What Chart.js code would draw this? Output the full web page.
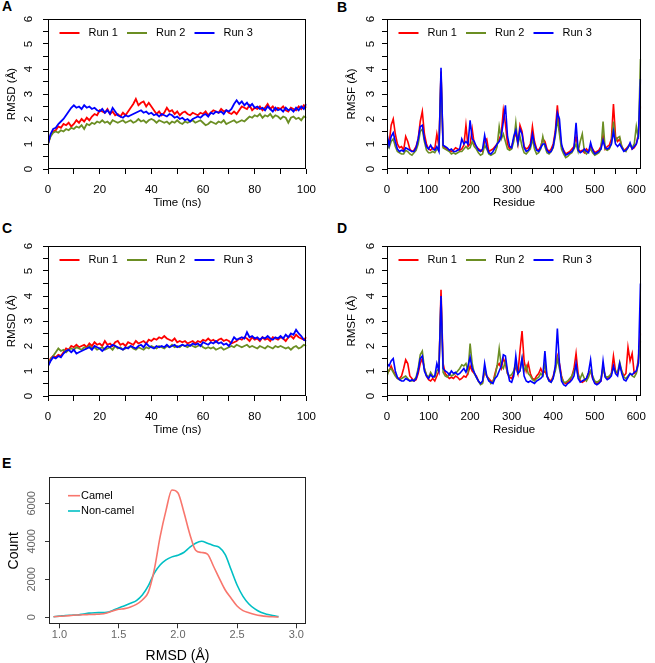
<!DOCTYPE html>
<html>
<head>
<meta charset="utf-8">
<title>RMSD / RMSF</title>
<script src="https://cdn.jsdelivr.net/npm/chart.js@4.4.1/dist/chart.umd.min.js"></script>
<style>
  html, body { margin: 0; padding: 0; background: #fff; width: 655px; height: 663px; overflow: hidden; }
  canvas { position: absolute; }
  .tag { position: absolute; font: bold 14px "Liberation Sans", Arial, sans-serif; line-height: 14px; color: #000; }
</style>
</head>
<body>
<div class="tag" style="left:2px;top:-1px">A</div>
<div class="tag" style="left:337px;top:0px">B</div>
<div class="tag" style="left:2px;top:221px">C</div>
<div class="tag" style="left:337px;top:221px">D</div>
<div class="tag" style="left:2px;top:456px">E</div>

<canvas id="chartA" style="left:0;top:0" width="325" height="215"></canvas>
<canvas id="chartB" style="left:325px;top:0" width="330" height="215"></canvas>
<canvas id="chartC" style="left:0;top:227px" width="325" height="215"></canvas>
<canvas id="chartD" style="left:325px;top:227px" width="330" height="215"></canvas>
<canvas id="chartE" style="left:0;top:458px" width="325" height="205"></canvas>

<script>
// ---- data ----
const runNames = ['Run 1', 'Run 2', 'Run 3'];
const runColors = ['#ff0000', '#6b8e23', '#0000ff'];

// time axis (ns), one sample per ns
const timeNs = [];
for (let t = 0; t <= 100; t++) timeNs.push(t);

// residue axis, every 5th residue
const residues = [];
for (let r = 0; r <= 610; r += 5) residues.push(r);

// panel A - RMSD
const rmsdA1 = [
  1.0, 1.35, 1.5, 1.55, 1.7, 1.65, 1.8, 1.75, 1.85, 1.7,
  1.8, 1.95, 1.85, 2.0, 1.9, 2.05, 1.95, 2.1, 2.2, 2.15,
  2.35, 2.3, 2.25, 2.4, 2.2, 2.3, 2.15, 2.2, 2.1, 2.25,
  2.15, 2.3, 2.45, 2.6, 2.8, 2.55, 2.65, 2.7, 2.5, 2.65,
  2.5, 2.35, 2.2, 2.3, 2.15, 2.25, 2.45, 2.3, 2.35, 2.2,
  2.3, 2.15, 2.25, 2.3, 2.2, 2.15, 2.25, 2.2, 2.15, 2.25,
  2.2, 2.3, 2.15, 2.25, 2.35, 2.3, 2.25, 2.4, 2.3, 2.35,
  2.25, 2.2, 2.3, 2.2, 2.35, 2.5, 2.45, 2.4, 2.55, 2.35,
  2.45, 2.4, 2.5, 2.35, 2.45, 2.6, 2.4, 2.5, 2.35, 2.45,
  2.4, 2.5, 2.35, 2.3, 2.45, 2.4, 2.35, 2.5, 2.4, 2.55,
  2.45];
const rmsdA2 = [
  1.0, 1.3, 1.45, 1.5, 1.45, 1.55, 1.5, 1.6, 1.55, 1.65,
  1.6, 1.7, 1.65, 1.75, 1.6, 1.8, 1.75, 1.85, 1.8, 1.9,
  1.85, 1.95, 1.85, 1.9, 1.8, 1.95, 1.9, 1.85, 1.9, 1.95,
  1.85, 1.9, 1.95, 1.85, 1.9, 2.0, 1.9, 1.95, 1.85, 1.95,
  2.0, 1.95, 1.85, 1.95, 1.9, 1.85, 1.9, 1.8, 1.9, 1.85,
  1.95, 1.85, 1.8, 1.9, 1.85, 1.9, 1.95, 1.85, 1.9, 1.95,
  1.85, 1.75, 1.8, 1.9, 1.85, 1.8, 1.9, 1.85, 1.95, 1.8,
  1.85, 1.9, 1.95, 1.85, 1.9, 1.95, 1.9, 2.0, 2.1, 2.05,
  2.15, 2.1, 2.2, 2.05, 2.15, 2.1, 2.2, 2.05, 2.15, 2.1,
  2.0, 2.1, 2.05, 1.85, 2.05, 2.1, 2.0, 2.05, 1.95, 2.1,
  2.05];
const rmsdA3 = [
  1.0, 1.4, 1.6, 1.65, 1.8, 1.9, 2.0, 2.15, 2.3, 2.45,
  2.55, 2.45, 2.5, 2.4, 2.55, 2.45, 2.5, 2.4, 2.45, 2.35,
  2.3, 2.4, 2.25, 2.35, 2.2, 2.45, 2.3, 2.15, 2.1, 2.05,
  2.15, 2.1, 2.15, 2.2, 2.25, 2.3, 2.35, 2.25, 2.3, 2.2,
  2.25, 2.15, 2.2, 2.1, 2.2, 2.15, 2.1, 2.2, 2.15, 2.05,
  2.1, 2.0, 2.05, 1.95, 2.0, 1.9, 2.0, 2.05, 2.1, 2.05,
  2.15, 2.2, 2.1, 2.25, 2.2, 2.3, 2.25, 2.3, 2.2, 2.35,
  2.3, 2.4, 2.6, 2.75, 2.6, 2.7, 2.55, 2.65, 2.5, 2.6,
  2.45, 2.5, 2.4, 2.45, 2.35, 2.5, 2.4, 2.3, 2.45, 2.35,
  2.4, 2.3, 2.45, 2.35, 2.4, 2.3, 2.45, 2.35, 2.5, 2.4,
  2.6];

// panel B - RMSF
const rmsfB1 = [
  1.2, 1.0, 1.75, 2.0, 1.4, 1.0, 0.85, 0.9, 0.75, 1.3,
  1.1, 0.8, 0.7, 0.75, 0.9, 1.2, 1.9, 2.3, 1.4, 1.0,
  0.8, 0.75, 0.85, 0.8, 1.4, 0.9, 3.9, 0.9, 0.85, 0.8,
  0.75, 0.7, 0.75, 0.85, 0.8, 0.75, 0.8, 0.95, 1.75, 0.9,
  1.0, 1.6, 1.0, 0.9, 0.8, 0.75, 0.7, 1.1, 1.2, 0.7,
  0.75, 0.8, 0.9, 1.0, 1.2, 1.4, 2.35, 1.8, 1.0, 0.8,
  0.9, 1.2, 1.45, 1.0, 1.75, 1.5, 0.9, 0.8, 0.85, 1.0,
  1.7, 1.1, 0.8, 0.75, 0.9, 1.2, 1.1, 0.8, 0.7, 0.8,
  1.0, 1.5, 2.55, 1.6, 0.9, 0.75, 0.6, 0.65, 0.7, 0.8,
  0.9, 1.3, 0.8, 0.7, 0.75, 0.65, 0.8, 0.7, 0.9, 0.8,
  0.65, 0.7, 0.75, 0.9, 1.35, 0.8, 0.9, 0.95, 1.2, 2.6,
  1.3, 1.1, 1.2, 0.9, 0.75, 0.8, 0.9, 1.0, 0.8, 0.85,
  1.0, 1.4, 2.5];
const rmsfB2 = [
  1.0, 0.85, 1.1, 1.2, 0.9, 0.7, 0.65, 0.6, 0.6, 0.75,
  0.7, 0.6, 0.55, 0.65, 0.75, 1.0, 1.5, 1.6, 1.1, 0.75,
  0.65, 0.65, 0.7, 0.65, 0.8, 0.75, 3.8, 0.85, 0.8, 0.75,
  0.7, 0.6, 0.65, 0.6, 0.65, 0.7, 0.7, 0.8, 0.9, 0.8,
  0.85, 1.1, 0.9, 0.8, 0.65, 0.55, 0.6, 0.95, 0.8, 0.6,
  0.55, 0.6, 0.65, 0.9, 1.7, 1.2, 1.4, 1.1, 0.8, 0.75,
  0.8, 1.1, 1.85, 1.0, 1.3, 0.9, 0.65, 0.6, 0.7, 0.8,
  1.2, 0.8, 0.6, 0.65, 0.8, 1.3, 0.9, 0.65, 0.6, 0.7,
  0.85, 1.3, 2.0, 1.4, 0.8, 0.6, 0.45, 0.5, 0.6, 0.65,
  0.8, 1.0, 0.7, 1.1, 1.4, 0.7, 0.6, 0.7, 0.8, 0.65,
  0.55, 0.6, 0.65, 0.8, 1.9, 0.8, 0.75, 0.8, 1.0, 1.9,
  1.1, 1.25, 1.3, 0.9, 0.75, 0.7, 0.9, 0.95, 0.85, 1.0,
  1.7, 1.2, 4.4];
const rmsfB3 = [
  1.4, 0.95, 1.3, 1.45, 1.1, 0.8, 0.7, 0.75, 0.7, 0.85,
  0.8, 0.75, 0.7, 0.7, 0.85, 1.2, 1.7, 1.75, 1.2, 0.9,
  0.8, 0.95, 0.8, 0.75, 0.9, 0.7, 4.05, 0.95, 0.9, 0.85,
  0.75, 0.8, 0.7, 0.7, 0.75, 0.8, 1.2, 1.0, 1.1, 1.0,
  1.95, 1.2, 1.1, 0.9, 0.75, 0.7, 0.8, 1.35, 0.9, 0.65,
  0.6, 0.7, 0.85, 1.0, 1.1, 1.3, 1.9, 2.55, 1.3, 0.9,
  0.85, 1.3, 1.55, 1.05, 1.6, 1.4, 0.85, 0.7, 0.75, 0.9,
  1.4, 1.0, 0.75, 0.7, 0.85, 1.0, 1.0, 0.75, 0.65, 0.7,
  0.9, 1.4, 2.25, 2.0, 1.0, 0.7, 0.55, 0.6, 0.65, 0.7,
  0.85, 1.85, 0.75, 0.65, 0.7, 0.8, 0.7, 0.65, 1.05, 0.75,
  0.6, 0.65, 0.7, 0.8, 1.15, 0.85, 0.8, 0.85, 1.0, 1.5,
  1.0, 0.9, 1.0, 0.85, 0.7, 0.75, 0.85, 1.05, 0.8, 0.9,
  1.0, 1.3, 3.6];

// panel C - RMSD
const rmsdC1 = [
  1.2, 1.5, 1.6, 1.55, 1.65, 1.6, 1.75, 1.9, 1.85, 2.0,
  1.95, 2.05, 1.95, 2.0, 2.05, 1.95, 2.1, 2.0, 2.15, 2.05,
  2.1, 2.0, 2.2, 2.05, 2.1, 2.0, 2.15, 2.2, 2.05, 2.1,
  2.0, 2.15, 2.1, 2.05, 2.2, 2.1, 2.15, 2.2, 2.1, 2.25,
  2.2, 2.3, 2.25, 2.35, 2.3, 2.4, 2.3, 2.25, 2.2, 2.3,
  2.15, 2.2, 2.15, 2.2, 2.1, 2.15, 2.2, 2.1, 2.2, 2.15,
  2.25, 2.2, 2.3, 2.2, 2.25, 2.15, 2.25, 2.3, 2.2, 2.25,
  2.2, 2.1, 2.15, 2.2, 2.3, 2.25, 2.35, 2.3, 2.2, 2.35,
  2.25, 2.3, 2.2, 2.35, 2.25, 2.3, 2.2, 2.35, 2.3, 2.25,
  2.35, 2.3, 2.2, 2.35, 2.4, 2.3, 2.45, 2.35, 2.3, 2.25,
  2.35];
const rmsdC2 = [
  1.2, 1.45, 1.6, 1.75, 1.9, 1.8, 1.85, 1.75, 1.85, 1.9,
  1.85, 1.95, 1.9, 1.85, 1.95, 1.9, 2.0, 1.9, 1.95, 1.85,
  1.9, 1.95, 1.85, 1.9, 1.95, 1.85, 2.0, 1.9, 1.95, 1.85,
  1.9, 1.95, 2.0, 1.9, 1.85, 1.95, 1.9, 1.85, 1.95, 1.9,
  2.0, 1.95, 1.9, 2.0, 1.95, 1.9, 2.0, 1.95, 2.05, 1.95,
  2.0, 1.95, 2.05, 2.0, 1.95, 2.05, 2.0, 1.95, 2.0, 2.05,
  1.95, 1.9, 1.95, 1.9, 1.95, 1.85, 1.9, 1.95, 1.85, 1.9,
  1.95, 2.0, 1.95, 2.05, 2.0, 1.95, 2.0, 2.05, 1.95, 2.0,
  1.95, 1.9, 2.0, 1.95, 1.9, 2.0, 1.95, 1.9, 2.0, 1.95,
  2.0, 1.95, 1.9, 1.95, 1.85, 1.95, 2.0, 1.9, 1.95, 2.05,
  2.0];
const rmsdC3 = [
  1.2, 1.4, 1.55, 1.5, 1.6, 1.55, 1.7, 1.8, 1.85, 1.75,
  1.85, 1.7, 1.75, 1.8, 1.85, 1.9, 1.95, 1.85, 2.0, 1.95,
  1.9, 1.8, 1.9, 2.0, 1.95, 2.05, 2.0, 1.95, 1.9, 1.85,
  1.95, 1.9, 2.0, 1.95, 1.9, 2.0, 2.05, 1.95, 2.1, 2.0,
  1.95, 1.9, 2.0, 1.95, 2.0, 1.95, 2.05, 1.95, 2.0, 2.05,
  1.95, 2.0, 2.05, 2.0, 2.05, 2.0, 2.1, 2.05, 2.1, 2.0,
  2.15, 2.1, 2.05, 2.15, 2.1, 2.2, 2.1, 2.15, 2.05, 2.1,
  2.0, 2.15, 2.35, 2.25, 2.3, 2.35, 2.3, 2.55, 2.35, 2.4,
  2.3, 2.35, 2.25, 2.35, 2.3, 2.4, 2.3, 2.25, 2.35, 2.3,
  2.4, 2.3, 2.45, 2.35, 2.5, 2.45, 2.65, 2.5, 2.4, 2.25,
  2.2];

// panel D - RMSF
const rmsfD1 = [
  1.0, 1.0, 1.2, 1.0, 0.85, 0.7, 0.7, 0.8, 1.1, 1.45,
  1.3, 0.8, 0.7, 0.6, 0.65, 0.9, 1.3, 1.5, 1.1, 0.8,
  0.65, 0.6, 0.7, 0.6, 0.8, 1.0, 4.25, 1.3, 0.9, 0.8,
  0.7, 0.75, 0.7, 0.8, 0.75, 0.65, 0.7, 0.8, 0.75, 0.9,
  1.2, 1.0, 0.9, 0.8, 0.6, 0.5, 0.55, 1.0, 0.8, 0.7,
  0.6, 0.55, 0.9, 1.2, 1.3, 1.1, 1.5, 1.3, 0.9, 0.75,
  0.7, 0.9, 1.2, 0.9, 1.8, 2.6, 1.4, 1.0, 1.3, 0.9,
  0.7, 0.65, 0.8, 0.9, 1.1, 0.9, 1.0, 0.8, 0.65, 0.6,
  0.8, 1.1, 1.6, 1.3, 0.8, 0.55, 0.5, 0.55, 0.6, 0.8,
  1.1, 1.7, 0.9, 0.6, 0.55, 0.6, 0.7, 0.9, 1.0, 0.7,
  0.55, 0.5, 0.55, 0.6, 1.2, 0.8, 0.7, 0.75, 0.9, 1.6,
  1.0, 0.9, 1.2, 1.0, 0.8, 0.9, 1.95, 1.4, 1.7, 0.9,
  0.95, 1.5, 2.5];
const rmsfD2 = [
  0.8, 1.05, 1.1, 0.95, 0.8, 0.7, 0.65, 0.7, 0.75, 0.8,
  0.7, 0.6, 0.6, 0.65, 0.75, 1.1, 1.65, 1.8, 1.1, 0.85,
  0.75, 0.95, 0.8, 0.75, 1.0, 1.1, 3.9, 0.95, 0.8, 0.75,
  0.9, 0.8, 0.85, 0.9, 1.0, 1.1, 1.25, 1.2, 1.3, 1.0,
  2.1, 1.3, 0.9, 0.75, 0.6, 0.45, 0.5, 1.1, 0.8, 0.65,
  0.5, 0.6, 0.8, 1.2, 1.9, 1.2, 1.1, 1.4, 0.9, 0.8,
  0.85, 1.0, 1.3, 0.9, 1.0, 1.5, 1.0, 1.2, 0.9, 0.8,
  0.65, 0.6, 0.7, 0.75, 0.9, 0.8, 1.3, 0.8, 0.6, 0.55,
  0.75, 1.0, 1.5, 1.1, 0.75, 0.55, 0.55, 0.6, 0.7, 0.8,
  1.0, 1.2, 0.8, 0.7, 0.9, 0.7, 0.6, 0.75, 1.0, 0.8,
  0.6, 0.55, 0.6, 0.7, 1.1, 0.8, 0.75, 0.8, 0.9, 1.1,
  1.0, 0.95, 1.35, 1.0, 0.75, 0.7, 0.8, 0.9, 0.8, 0.75,
  0.9, 1.3, 2.2];
const rmsfD3 = [
  1.3, 1.2, 1.4, 1.5, 1.0, 0.75, 0.65, 0.6, 0.6, 0.7,
  0.65, 0.6, 0.65, 0.6, 0.7, 1.0, 1.5, 1.6, 1.0, 0.8,
  0.7, 0.85, 0.75, 0.8, 1.3, 1.0, 4.0, 1.1, 1.0, 0.95,
  0.85, 1.0, 0.9, 0.95, 0.85, 0.9, 1.0, 1.1, 0.95, 1.2,
  1.55, 1.1, 0.95, 0.75, 0.6, 0.5, 0.6, 1.3, 0.8, 0.6,
  0.55, 0.5, 0.7, 0.8, 1.0, 1.2, 1.65, 1.6, 1.0, 0.6,
  0.55, 0.8, 1.6, 0.9, 1.0, 1.5, 0.8, 0.6, 0.55, 0.6,
  0.55, 0.5, 0.6, 0.65, 0.7, 0.8, 1.8, 0.8, 0.6, 0.55,
  0.7, 1.2, 2.7, 1.3, 0.6, 0.45, 0.4, 0.5, 0.55, 0.65,
  0.8, 1.3, 0.7, 0.55, 0.6, 0.65, 0.7, 0.95, 1.45, 0.7,
  0.5, 0.45, 0.5, 0.6, 1.4, 0.75, 0.65, 0.7, 0.8, 1.2,
  0.9, 0.8, 1.3, 0.9, 0.65, 0.6, 0.75, 0.9, 0.85, 0.95,
  1.0, 1.3, 4.5];

// panel E - RMSD distribution
const rmsdBins = [
  0.95, 1.0, 1.05, 1.1, 1.15, 1.2, 1.25, 1.3, 1.35, 1.4,
  1.45, 1.5, 1.55, 1.6, 1.65, 1.7, 1.75, 1.8, 1.85, 1.9,
  1.95, 2.0, 2.05, 2.1, 2.15, 2.2, 2.25, 2.3, 2.35, 2.4,
  2.45, 2.5, 2.55, 2.6, 2.65, 2.7, 2.75, 2.8, 2.85];
const camelCount = [
  30, 50, 70, 95, 120, 135, 145, 155, 170, 230,
  330, 420, 455, 540, 680, 910, 1310, 2480, 4230, 5630,
  6700, 6560, 5560, 4400, 3530, 3410, 3330, 2700, 2050, 1435,
  1000, 590, 350, 240, 150, 85, 45, 25, 15];
const nonCamelCount = [
  30, 60, 95, 110, 120, 170, 220, 240, 245, 260,
  360, 490, 610, 740, 880, 1170, 1650, 2310, 2750, 3020,
  3180, 3270, 3410, 3680, 3900, 4000, 3900, 3780, 3680, 3300,
  2500, 1700, 1100, 700, 440, 260, 160, 90, 35];
const distNames = ['Camel', 'Non-camel'];
const distColors = ['#f8766d', '#00bfc4'];

// ticks
const timeTicks = [0, 10, 20, 30, 40, 50, 60, 70, 80, 90, 100];
const timeTickLabels = ['0', '', '20', '', '40', '', '60', '', '80', '', '100'];
const residueTicks = [0, 50, 100, 150, 200, 250, 300, 350, 400, 450, 500, 550, 600];
const residueTickLabels = ['0', '', '100', '', '200', '', '300', '', '400', '', '500', '', '600'];
const angTicks = [0, 0.5, 1, 1.5, 2, 2.5, 3, 3.5, 4, 4.5, 5, 5.5, 6];
const angTickLabels = ['0', '', '1', '', '2', '', '3', '', '4', '', '5', '', '6'];
const rmsdBinTicks = [1.0, 1.5, 2.0, 2.5, 3.0];
const rmsdBinTickLabels = ['1.0', '1.5', '2.0', '2.5', '3.0'];
const countTicks = [0, 2000, 4000, 6000];
const countTickLabels = ['0', '2000', '4000', '6000'];

// ---- drawing ----
const FONT = '"Liberation Sans", Arial, Helvetica, sans-serif';
Chart.defaults.font.family = FONT;
Chart.defaults.color = '#000';

// box around the plot region
const framePlugin = {
  id: 'frame',
  afterDatasetsDraw(chart, args, opts) {
    const a = chart.chartArea, ctx = chart.ctx;
    ctx.save();
    ctx.strokeStyle = opts.color || '#000';
    ctx.lineWidth = 1;
    ctx.strokeRect(Math.round(a.left) + 0.5, Math.round(a.top) + 0.5,
      Math.round(a.right - a.left) - 1, Math.round(a.bottom - a.top) - 1);
    ctx.restore();
  }
};

// legend drawn inside the plot region
const innerLegend = {
  id: 'innerLegend',
  afterDraw(chart, args, o) {
    const a = chart.chartArea, ctx = chart.ctx;
    ctx.save();
    ctx.font = o.fontSize + 'px ' + FONT;
    ctx.textBaseline = 'middle';
    chart.data.datasets.forEach((ds, i) => {
      const x = a.left + o.x + i * o.stepX;
      const y = a.top + o.y + i * o.stepY;
      ctx.strokeStyle = ds.borderColor;
      ctx.lineWidth = o.lineWidth;
      ctx.beginPath();
      ctx.moveTo(x, y);
      ctx.lineTo(x + o.len, y);
      ctx.stroke();
      ctx.fillStyle = '#000';
      ctx.fillText(ds.label, x + o.len + o.gap, y);
    });
    ctx.restore();
  }
};

function axisCfg(min, max, tickVals, tickLabels, extra) {
  return Object.assign({
    type: 'linear',
    min: min,
    max: max,
    afterBuildTicks: s => { s.ticks = tickVals.map(v => ({ value: v })); },
    grid: { drawOnChartArea: false, drawTicks: true, tickLength: 5, tickColor: '#000', color: '#000' },
    border: { display: false }
  }, extra);
}

function runChart(id, xs, runs, c) {
  return new Chart(document.getElementById(id), {
    type: 'line',
    data: {
      datasets: runs.map((vals, i) => ({
        label: runNames[i],
        data: xs.map((x, j) => ({ x: x, y: vals[j] })),
        borderColor: runColors[i],
        backgroundColor: runColors[i],
        borderWidth: c.lineWidth,
        pointRadius: 0,
        tension: 0,
        order: runs.length - i
      }))
    },
    options: {
      responsive: false,
      animation: false,
      devicePixelRatio: 1,
      layout: { autoPadding: false, padding: { top: 19, right: c.padRight, left: 0, bottom: 0 } },
      plugins: {
        legend: { display: false },
        tooltip: { enabled: false },
        frame: { color: '#000' },
        innerLegend: { x: 11.5, y: 14, stepX: 67.5, stepY: 0, len: 20, gap: 9, lineWidth: 2, fontSize: 11 }
      },
      scales: {
        x: axisCfg(c.xMin, c.xMax, c.xTicks, c.xLabels, {
          afterFit: s => { s.height = 46; },
          ticks: { callback: (v, i) => c.xLabels[i], autoSkip: false, maxRotation: 0, padding: 9, font: { size: 11.5 } },
          title: { display: true, text: c.xTitle, font: { size: 11.5 }, padding: { top: 0, bottom: 5 } }
        }),
        y: axisCfg(0, 6, angTicks, angTickLabels, {
          afterFit: s => { s.width = c.yWidth; },
          ticks: { callback: (v, i) => angTickLabels[i], autoSkip: false, minRotation: 90, maxRotation: 90,
                   crossAlign: 'center', padding: c.yPad, font: { size: 11.5 } },
          title: { display: true, text: c.yTitle, font: { size: 11.5 }, padding: { top: c.yTitlePad, bottom: 0 } }
        })
      }
    },
    plugins: [framePlugin, innerLegend]
  });
}

runChart('chartA', timeNs, [rmsdA1, rmsdA2, rmsdA3], {
  xMin: 0, xMax: 100, xTicks: timeTicks, xLabels: timeTickLabels, xTitle: 'Time (ns)',
  yTitle: 'RMSD (Å)', yWidth: 48, yPad: 10.5, yTitlePad: 5, padRight: 14, lineWidth: 1.8
});
runChart('chartB', residues, [rmsfB1, rmsfB2, rmsfB3], {
  xMin: 0, xMax: 612, xTicks: residueTicks, xLabels: residueTickLabels, xTitle: 'Residue',
  yTitle: 'RMSF (Å)', yWidth: 62, yPad: 7.5, yTitlePad: 20, padRight: 5, lineWidth: 1.6
});
runChart('chartC', timeNs, [rmsdC1, rmsdC2, rmsdC3], {
  xMin: 0, xMax: 100, xTicks: timeTicks, xLabels: timeTickLabels, xTitle: 'Time (ns)',
  yTitle: 'RMSD (Å)', yWidth: 48, yPad: 10.5, yTitlePad: 5, padRight: 14, lineWidth: 1.8
});
runChart('chartD', residues, [rmsfD1, rmsfD2, rmsfD3], {
  xMin: 0, xMax: 612, xTicks: residueTicks, xLabels: residueTickLabels, xTitle: 'Residue',
  yTitle: 'RMSF (Å)', yWidth: 62, yPad: 7.5, yTitlePad: 20, padRight: 5, lineWidth: 1.6
});

// panel E
new Chart(document.getElementById('chartE'), {
  type: 'line',
  data: {
    datasets: [camelCount, nonCamelCount].map((vals, i) => ({
      label: distNames[i],
      data: rmsdBins.map((x, j) => ({ x: x, y: vals[j] })),
      borderColor: distColors[i],
      backgroundColor: distColors[i],
      borderWidth: 1.6,
      pointRadius: 0,
      cubicInterpolationMode: 'monotone'
    }))
  },
  options: {
    responsive: false,
    animation: false,
    devicePixelRatio: 1,
    layout: { autoPadding: false, padding: { top: 19.3, right: 19, left: 0, bottom: 0 } },
    plugins: {
      legend: { display: false },
      tooltip: { enabled: false },
      frame: { color: '#222' },
      innerLegend: { x: 19, y: 18.4, stepX: 0, stepY: 15.3, len: 12, gap: 1, lineWidth: 1.6, fontSize: 11 }
    },
    scales: {
      x: axisCfg(0.912, 3.082, rmsdBinTicks, rmsdBinTickLabels, {
        afterFit: s => { s.height = 38.7; },
        grid: { drawOnChartArea: false, tickLength: 4, tickColor: '#333' },
        ticks: { callback: (v, i) => rmsdBinTickLabels[i], autoSkip: false, maxRotation: 0, padding: 0,
                 color: '#666', font: { size: 11 } },
        title: { display: true, text: 'RMSD (Å)', font: { size: 14, lineHeight: 1 }, padding: { top: 0, bottom: 0 } }
      }),
      y: axisCfg(-370, 7370, countTicks, countTickLabels, {
        afterFit: s => { s.width = 49; },
        grid: { drawOnChartArea: false, tickLength: 4, tickColor: '#333' },
        ticks: { callback: (v, i) => countTickLabels[i], autoSkip: false, minRotation: 90, maxRotation: 90,
                 crossAlign: 'center', padding: 1, color: '#666', font: { size: 11 } },
        title: { display: true, text: 'Count', font: { size: 14, lineHeight: 1 }, padding: { top: 7, bottom: 0 } }
      })
    }
  },
  plugins: [framePlugin, innerLegend]
});
</script>
</body>
</html>
